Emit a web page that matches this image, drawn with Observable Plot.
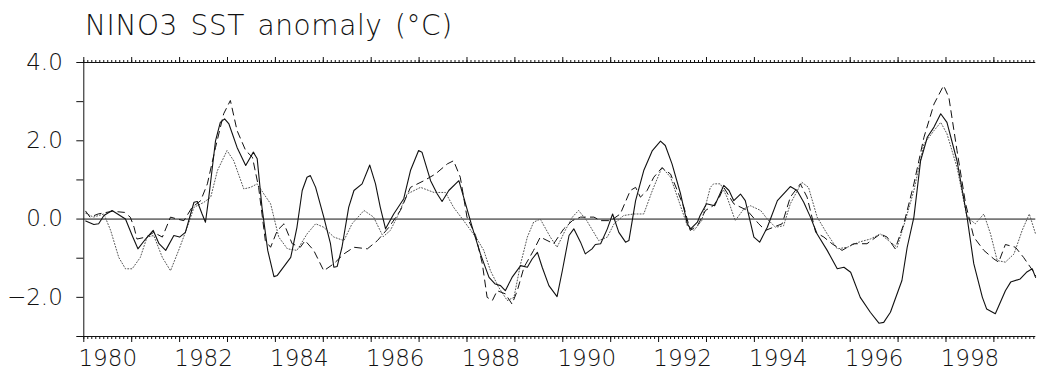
<!DOCTYPE html>
<html>
<head>
<meta charset="utf-8">
<script src="https://cdn.jsdelivr.net/npm/d3@7"></script>
<script src="https://cdn.jsdelivr.net/npm/@observablehq/plot@0.6"></script>
<style>
  html, body { margin: 0; padding: 0; background: #fff; }
  #chart svg text { font-weight: 200; }
  .title { display: block; }
  .title text { font-family: "DejaVu Sans", sans-serif; font-weight: 200; letter-spacing: 0.6px; word-spacing: 3px; }
</style>
</head>
<body>
<svg class="title" width="1039" height="44">
  <text x="85" y="35" font-size="28" fill="#111">NINO3 SST anomaly (°C)</text>
</svg>
<div id="chart"></div>
<script>
// NINO3 sea surface temperature anomaly, three estimates (decimal year, °C)
const solidT = [1980.04,1980.21,1980.31,1980.42,1980.59,1980.87,1981.01,1981.13,1981.29,1981.45,1981.57,1981.71,1981.88,1982.00,1982.12,1982.30,1982.37,1982.47,1982.54,1982.61,1982.75,1982.85,1982.94,1983.03,1983.20,1983.38,1983.54,1983.62,1983.72,1983.84,1983.97,1984.04,1984.32,1984.45,1984.56,1984.66,1984.73,1984.84,1985.01,1985.15,1985.22,1985.29,1985.39,1985.53,1985.64,1985.81,1985.97,1986.09,1986.19,1986.30,1986.47,1986.68,1986.82,1986.99,1987.06,1987.24,1987.38,1987.48,1987.62,1987.83,1987.93,1988.11,1988.28,1988.46,1988.59,1988.70,1988.80,1988.94,1989.12,1989.26,1989.36,1989.47,1989.57,1989.71,1989.88,1989.99,1990.13,1990.23,1990.37,1990.47,1990.61,1990.68,1990.79,1990.93,1991.04,1991.17,1991.31,1991.38,1991.52,1991.69,1991.87,1992.04,1992.14,1992.28,1992.46,1992.60,1992.67,1992.81,1992.87,1993.00,1993.17,1993.36,1993.47,1993.57,1993.71,1993.81,1993.99,1994.11,1994.27,1994.48,1994.75,1994.89,1995.03,1995.17,1995.31,1995.52,1995.73,1995.87,1996.01,1996.21,1996.42,1996.60,1996.70,1996.84,1997.08,1997.19,1997.33,1997.47,1997.61,1997.75,1997.89,1998.02,1998.23,1998.44,1998.58,1998.76,1998.85,1999.03,1999.24,1999.35,1999.55,1999.68,1999.80,1999.87];
const solidV = [-0.05,-0.14,-0.12,0.09,0.22,0.00,-0.42,-0.76,-0.51,-0.29,-0.63,-0.80,-0.42,-0.46,-0.34,0.43,0.45,0.13,-0.08,0.56,2.00,2.47,2.56,2.43,1.83,1.37,1.71,1.54,0.30,-0.80,-1.47,-1.44,-0.98,-0.21,0.73,1.07,1.11,0.81,0.05,-0.63,-1.23,-1.21,-0.72,0.30,0.73,0.90,1.38,0.90,0.30,-0.25,0.13,0.52,1.24,1.75,1.71,0.98,0.64,0.45,0.73,0.98,0.56,-0.21,-0.89,-1.49,-1.66,-1.70,-1.83,-1.49,-1.19,-1.23,-1.02,-0.85,-1.23,-1.70,-1.98,-1.32,-0.42,-0.25,-0.59,-0.89,-0.76,-0.65,-0.63,-0.25,0.13,-0.34,-0.59,-0.55,0.47,1.24,1.75,1.99,1.88,1.41,0.64,-0.12,-0.25,-0.08,0.10,0.39,0.34,0.86,0.73,0.47,0.64,0.47,-0.46,-0.59,-0.21,0.47,0.83,0.73,0.43,0.05,-0.38,-0.80,-1.27,-1.23,-1.36,-2.00,-2.38,-2.66,-2.64,-2.38,-1.57,-0.72,0.05,1.49,2.09,2.35,2.69,2.47,1.49,0.05,-1.14,-2.00,-2.30,-2.42,-1.83,-1.61,-1.53,-1.36,-1.27,-1.49];

const dashedT = [1980.04,1980.13,1980.30,1980.60,1980.85,1980.97,1981.05,1981.11,1981.30,1981.46,1981.64,1981.81,1981.95,1982.09,1982.26,1982.44,1982.58,1982.75,1982.92,1983.06,1983.20,1983.38,1983.52,1983.65,1983.79,1983.90,1984.04,1984.18,1984.35,1984.52,1984.62,1984.80,1985.01,1985.22,1985.43,1985.64,1985.92,1986.13,1986.37,1986.61,1986.82,1987.10,1987.34,1987.59,1987.72,1987.86,1988.00,1988.18,1988.32,1988.42,1988.53,1988.63,1988.80,1988.94,1989.05,1989.19,1989.39,1989.53,1989.81,1990.02,1990.20,1990.37,1990.65,1990.79,1991.00,1991.20,1991.41,1991.52,1991.62,1991.76,1991.90,1992.07,1992.25,1992.39,1992.53,1992.66,1992.81,1992.98,1993.15,1993.27,1993.36,1993.57,1993.85,1994.09,1994.23,1994.58,1994.75,1994.96,1995.10,1995.28,1995.45,1995.62,1995.83,1996.07,1996.35,1996.63,1996.77,1996.94,1997.12,1997.33,1997.54,1997.75,1997.95,1998.06,1998.23,1998.41,1998.58,1998.79,1999.00,1999.10,1999.24,1999.45,1999.62,1999.83,1999.87];
const dashedV = [0.20,0.05,0.13,0.20,0.17,0.05,-0.21,-0.51,-0.46,-0.34,-0.46,0.05,0.00,-0.04,0.30,0.47,0.90,1.83,2.69,3.03,2.26,1.75,1.58,0.81,-0.55,-0.72,-0.29,-0.12,-0.63,-0.72,-0.55,-0.80,-1.32,-1.14,-0.89,-0.72,-0.76,-0.55,-0.21,0.22,0.81,0.98,1.15,1.41,1.49,1.07,0.05,-0.42,-1.14,-2.00,-2.08,-1.83,-1.91,-2.17,-1.83,-1.23,-0.80,-0.46,-0.63,-0.25,-0.04,0.05,0.05,-0.04,-0.04,0.13,0.73,0.81,0.56,0.73,1.07,1.31,1.15,0.73,0.30,-0.29,-0.17,0.22,0.35,0.56,0.81,0.39,0.22,-0.12,-0.29,-0.12,0.56,0.90,0.56,-0.34,-0.46,-0.63,-0.80,-0.63,-0.63,-0.38,-0.46,-0.76,-0.12,0.90,2.09,2.94,3.41,3.11,1.75,0.39,-0.46,-0.80,-1.02,-1.10,-0.65,-0.72,-0.98,-1.35,-1.45];

const dottedT = [1980.04,1980.20,1980.42,1980.56,1980.73,1980.87,1981.01,1981.18,1981.32,1981.46,1981.64,1981.81,1981.98,1982.16,1982.30,1982.51,1982.65,1982.79,1982.99,1983.13,1983.34,1983.48,1983.62,1983.76,1983.90,1984.07,1984.25,1984.45,1984.66,1984.84,1985.01,1985.22,1985.43,1985.60,1985.85,1986.05,1986.25,1986.40,1986.54,1986.75,1987.03,1987.31,1987.55,1987.72,1987.93,1988.21,1988.35,1988.49,1988.66,1988.84,1988.98,1989.12,1989.26,1989.39,1989.53,1989.74,1989.88,1990.05,1990.20,1990.33,1990.50,1990.75,1990.93,1991.07,1991.27,1991.48,1991.69,1991.87,1992.07,1992.25,1992.42,1992.60,1992.74,1992.90,1993.08,1993.15,1993.29,1993.43,1993.60,1993.78,1993.92,1994.13,1994.27,1994.44,1994.61,1994.75,1994.99,1995.13,1995.31,1995.52,1995.73,1995.94,1996.18,1996.42,1996.63,1996.84,1996.98,1997.15,1997.33,1997.54,1997.75,1997.89,1998.02,1998.23,1998.44,1998.61,1998.79,1998.93,1999.07,1999.24,1999.42,1999.59,1999.74,1999.87];
const dottedV = [0.15,0.05,0.13,-0.29,-0.98,-1.27,-1.27,-0.98,-0.46,-0.42,-0.98,-1.32,-0.80,-0.21,0.30,0.43,0.56,1.24,1.75,1.49,0.77,0.81,0.90,0.64,0.39,-0.46,-0.76,-0.80,-0.38,-0.12,-0.21,-0.46,-0.55,-0.12,0.22,0.05,-0.45,-0.29,0.05,0.64,0.81,0.68,0.68,0.30,-0.04,-0.51,-0.80,-1.32,-1.74,-2.08,-2.00,-1.14,-0.46,-0.08,0.00,-0.46,-0.72,-0.29,0.05,0.22,-0.04,-0.55,-0.46,-0.12,0.09,0.13,0.13,0.73,1.32,1.07,0.47,-0.17,-0.29,-0.04,0.81,0.90,0.90,0.56,-0.04,0.26,0.34,0.22,0.00,-0.21,-0.17,0.39,0.94,0.81,0.05,-0.38,-0.76,-0.72,-0.59,-0.51,-0.38,-0.59,-0.72,-0.04,0.73,1.92,2.26,2.47,2.18,1.32,0.05,-0.12,0.13,-0.38,-1.06,-1.10,-0.89,-0.29,0.13,-0.38];

// Axis ticks and labels
const yTicks = [-3, -2, -1, 0, 1, 2, 3, 4];
const yLabelled = [-2, 0, 2, 4];
const yearTicks = d3.range(1980, 2000);
const monthTicks = d3.range(0, 239).map(m => 1980 + m / 12);
const yearLabels = [1980, 1982, 1984, 1986, 1988, 1990, 1992, 1994, 1996, 1998];

const toRows = (T, V) => T.map((t, i) => ({t, v: V[i]}));
const solid = toRows(solidT, solidV);
const dashed = toRows(dashedT, dashedV);
const dotted = toRows(dottedT, dottedV);

const fmtY = d => yLabelled.includes(d) ? d.toFixed(1).replace("-", "\u2212") : "";
const blank = () => "";

const chart = Plot.plot({
  width: 1039,
  height: 333,
  marginLeft: 83.3,
  marginRight: 3.7,
  marginTop: 18,
  marginBottom: 41,
  style: {fontFamily: "DejaVu Sans, sans-serif", fontSize: "23px", color: "#111", background: "#fff"},
  x: {domain: [1980, 1999.875], label: null},
  y: {domain: [-3, 4], label: null},
  marks: [
    // frame lines: left, top, bottom, plus the zero line
    Plot.ruleX([1980], {stroke: "#111", strokeWidth: 1}),
    Plot.ruleY([-3, 4], {stroke: "#111", strokeWidth: 1}),
    Plot.ruleY([0], {stroke: "#111", strokeWidth: 1}),
    // x ticks: monthly minor and yearly major, on top and bottom
    Plot.axisX({anchor: "bottom", ticks: monthTicks, tickSize: 3, tickFormat: blank, label: null, stroke: "#111"}),
    Plot.axisX({anchor: "bottom", ticks: yearTicks, tickSize: 6, tickFormat: blank, label: null, stroke: "#111"}),
    Plot.axisX({anchor: "top", ticks: monthTicks, tickSize: 3, tickFormat: blank, label: null, stroke: "#111"}),
    Plot.axisX({anchor: "top", ticks: yearTicks, tickSize: 6, tickFormat: blank, label: null, stroke: "#111"}),
    // year labels centred on their year
    Plot.axisX({anchor: "bottom", ticks: yearLabels.map(y => y + 0.5), tickSize: 0, tickPadding: 13,
                tickFormat: d => String(Math.floor(d)), label: null, fill: "#111"}),
    Plot.axisY({ticks: yTicks, tickSize: 7, tickPadding: 14, tickFormat: fmtY, label: null, stroke: "#111", fill: "#111"}),
    Plot.line(dotted, {x: "t", y: "v", stroke: "#555", strokeWidth: 1, strokeDasharray: "1,2"}),
    Plot.line(dashed, {x: "t", y: "v", stroke: "#111", strokeWidth: 1, strokeDasharray: "7,5"}),
    Plot.line(solid, {x: "t", y: "v", stroke: "#111", strokeWidth: 1.1})
  ]
});
document.getElementById("chart").appendChild(chart);
</script>
</body>
</html>
